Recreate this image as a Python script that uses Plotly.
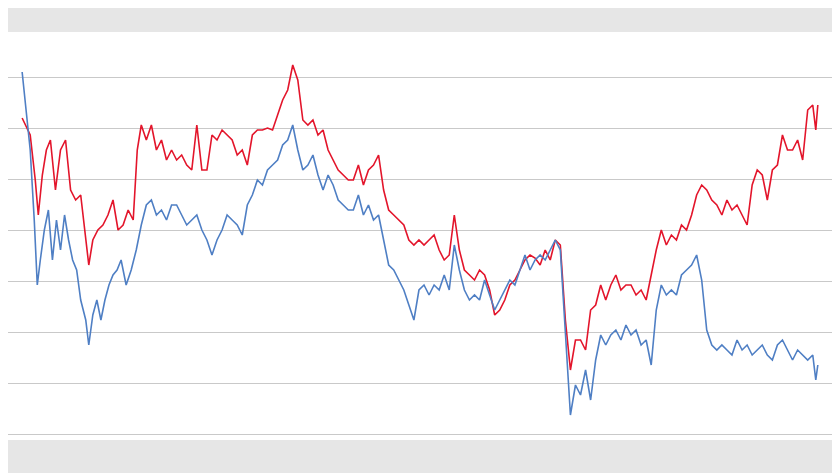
import plotly.graph_objects as go

# two price series (arbitrary units)
red_days = ([22, 30, 35, 38, 42, 46, 50, 55, 60, 65, 70, 75, 80, 85, 88, 92, 97, 102, 107, 112,
             117, 122, 127, 132, 136, 140] + list(range(145, 806, 5)) + [808, 810])
red_values = [282,265,220,185,225,250,260,210,250,260,210,200,205,160,135,160,170,175,185,200,
              170,175,190,180,250,275,260,275,250,260,240,250,240,245,235,230,275,230,230,265,
              260,270,265,260,245,250,235,265,270,270,272,270,285,300,310,335,320,280,275,280,
              265,270,250,240,230,225,220,220,235,215,230,235,245,210,190,185,180,175,160,155,
              160,155,160,165,150,140,145,185,150,130,125,120,130,125,110,85,90,100,115,120,
              130,140,145,142,135,150,140,160,155,80,30,60,60,50,90,95,115,100,115,125,
              110,115,115,105,110,100,125,150,170,155,165,160,175,170,185,205,215,210,200,195,
              185,200,190,195,185,175,215,230,225,200,230,235,265,250,250,260,240,290,295,270,295]

blue_days = ([22, 26, 30, 34, 37, 40, 44, 48, 52, 56, 60, 64, 68, 72, 76, 80, 85, 88, 92, 96,
              100, 104, 108, 112, 116, 120] + list(range(125, 806, 5)) + [808, 810])
blue_values = [328,290,250,180,115,140,170,190,140,180,150,185,160,140,130,100,80,55,85,100,
               80,100,115,125,130,140,115,130,150,175,195,200,185,190,180,195,195,185,175,180,
               185,170,160,145,160,170,185,180,175,165,195,205,220,215,230,235,240,255,260,275,
               250,230,235,245,225,210,225,215,200,195,190,190,205,185,195,180,185,160,135,130,
               120,110,95,80,110,115,105,115,110,125,110,155,130,110,100,105,100,120,105,90,
               100,110,120,115,130,145,130,140,145,140,150,160,150,70,-15,15,5,30,0,40,
               65,55,65,70,60,75,65,70,55,60,35,90,115,105,110,105,125,130,135,145,
               120,70,55,50,55,50,45,60,50,55,45,50,55,45,40,55,60,50,40,50,45,40,45,20,35]

fig = go.Figure()
fig.add_trace(go.Scatter(x=red_days, y=red_values, mode="lines",
                         line=dict(color="#e3152b", width=1.6)))
fig.add_trace(go.Scatter(x=blue_days, y=blue_values, mode="lines",
                         line=dict(color="#4f7fc4", width=1.6)))

fig.update_layout(
    width=832, height=465,
    paper_bgcolor="#e6e6e6", plot_bgcolor="white",
    margin=dict(l=0, r=2, t=24, b=33),
    showlegend=False,
    xaxis=dict(range=[8, 830], showgrid=False, zeroline=False, showticklabels=False),
    yaxis=dict(range=[-40, 368], tick0=17, dtick=51, showgrid=True, gridcolor="#c9c9c9",
               gridwidth=1, zeroline=False, showticklabels=False),
)
fig.write_html("out.html")
